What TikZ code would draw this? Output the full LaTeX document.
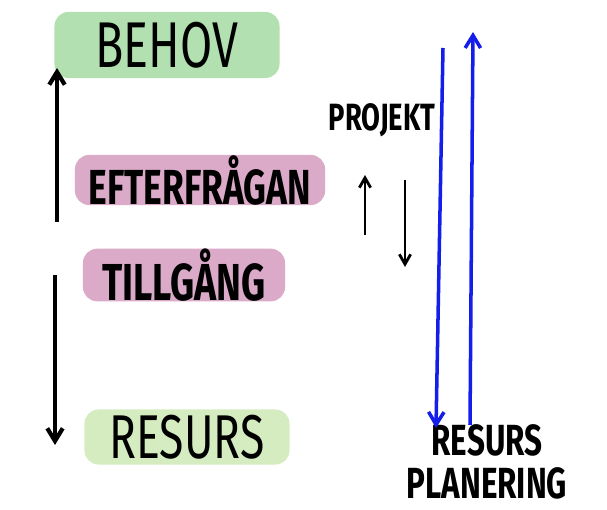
\documentclass[tikz,border=0pt]{standalone}
\usepackage{fontspec}
\newfontfamily\hand[FakeStretch=0.72]{Fira Sans}
\usetikzlibrary{arrows.meta}
\definecolor{behovgreen}{RGB}{178,224,176}
\definecolor{resursgreen}{RGB}{212,236,192}
\definecolor{bandpink}{RGB}{218,170,200}
\definecolor{penblue}{RGB}{20,30,235}
\newcommand\handsize[1]{\fontsize{#1}{#1}\selectfont}
\begin{document}
\begin{tikzpicture}[
x = 0.025cm, y = -0.025cm,
band/.style = {rectangle, rounded corners=10pt, inner sep=0pt},
pen/.style = {line width=3pt, -{Straight Barb[length=9pt,width=11pt]}},
thinpen/.style = {line width=2pt, -{Straight Barb[length=7pt,width=8pt]}},
bluepen/.style = {pen, draw=penblue, line width=2.5pt}
]
\useasboundingbox (0,0) rectangle (607,510);
% labels on the left
\node[band, fill=behovgreen, minimum width=5.625cm, minimum height=1.65cm, font=\hand\handsize{46}] (behov) at (167,45) {BEHOV};
\node[band, fill=bandpink, minimum width=6.25cm, minimum height=1.25cm, font=\hand\bfseries\handsize{35}] (efter) at (200,180) {EFTERFRÅGAN};
\node[band, fill=bandpink, minimum width=5.05cm, minimum height=1.25cm, font=\hand\bfseries\handsize{37}] (tillgang) at (184,275) {TILLGÅNG};
\node[band, fill=resursgreen, minimum width=5.125cm, minimum height=1.375cm, font=\hand\handsize{44}] (resurs) at (187,437) {RESURS};
% labels on the right
\node[font=\hand\bfseries\handsize{27}] (projekt) at (382,120) {PROJEKT};
\node[align=center, inner sep=0pt, font=\hand\bfseries\fontsize{31}{31}\selectfont] (resplan) at (487,462) {RESURS\\PLANERING};
% arrows
\coordinate (upA) at (57,222);
\coordinate (upB) at (57,68);
\coordinate (downA) at (55,275);
\coordinate (downB) at (55,445);
\draw[pen] (upA) -- (upB);
\draw[pen] (downA) -- (downB);
\coordinate (pupA) at (365,235);
\coordinate (pupB) at (365,175);
\coordinate (pdownA) at (405,180);
\coordinate (pdownB) at (405,267);
\draw[thinpen] (pupA) -- (pupB);
\draw[thinpen] (pdownA) -- (pdownB);
\coordinate (bdownA) at (443,48);
\coordinate (bdownB) at (436,428);
\coordinate (bupA) at (470,425);
\coordinate (bupB) at (473,32);
\draw[bluepen] (bdownA) -- (bdownB);
\draw[bluepen] (bupA) -- (bupB);
\end{tikzpicture}
\end{document}
